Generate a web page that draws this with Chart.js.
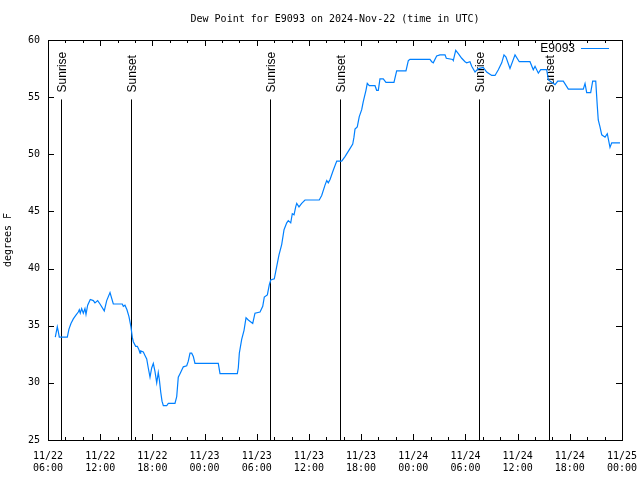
<!doctype html>
<html lang="en">
<head>
  <meta charset="utf-8">
  <title>Dew Point for E9093</title>
  <style type="text/css">
    html, body {
      margin: 0;
      padding: 0;
      background: #ffffff;
    }
  </style>
</head>
<body>
  <canvas id="chart_dewpoint" width="640" height="480"></canvas>

  <script src="https://cdn.jsdelivr.net/npm/chart.js"></script>
  <script>
    // hours since 2024-11-22 00:00 UTC
    const hours = [6.84, 7.07, 7.18, 7.30, 8.22, 8.41, 8.64, 8.91, 9.19, 9.48,
      9.60, 9.71, 9.87, 10.06, 10.25, 10.37, 10.56, 10.86, 11.21, 11.40,
      11.71, 11.98, 12.47, 12.75, 13.13, 13.51, 14.54, 14.66, 14.85, 15.08,
      15.31, 15.54, 15.69, 15.81, 16.08, 16.27, 16.46, 16.58, 16.66, 16.96,
      17.15, 17.35, 17.53, 17.73, 17.92, 18.11, 18.30, 18.50, 18.68, 18.80,
      18.96, 19.11, 19.26, 19.65, 19.83, 20.60, 20.80, 20.98, 21.18, 21.37,
      21.56, 21.95, 22.13, 22.33, 22.52, 22.71, 22.90, 25.58, 25.78, 27.77,
      27.88, 28.00, 28.27, 28.54, 28.77, 29.03, 29.54, 29.80, 30.38, 30.69,
      30.87, 31.22, 31.45, 31.61, 32.02, 32.30, 32.56, 32.87, 33.14, 33.45,
      33.63, 33.91, 34.09, 34.29, 34.48, 34.60, 34.86, 35.17, 35.55, 37.19,
      37.47, 37.85, 38.05, 38.23, 38.43, 38.80, 39.20, 39.77, 40.15, 40.72,
      41.04, 41.18, 41.30, 41.56, 41.79, 42.07, 42.25, 42.56, 42.71, 42.94,
      43.60, 43.79, 43.98, 44.17, 44.55, 44.86, 45.78, 46.09, 47.16, 47.43,
      47.62, 49.92, 50.12, 50.30, 50.69, 51.07, 51.65, 51.80, 52.53, 52.60,
      52.88, 53.18, 53.57, 53.95, 54.14, 54.52, 54.72, 55.10, 55.48, 56.05,
      56.44, 57.02, 57.40, 57.78, 58.17, 58.43, 58.66, 59.12, 59.70, 60.19,
      61.42, 61.80, 62.00, 62.38, 62.65, 63.34, 63.53, 63.92, 64.30, 64.61,
      65.25, 65.83, 67.55, 67.75, 67.94, 68.40, 68.63, 68.98, 69.16, 69.27,
      69.47, 69.67, 70.05, 70.31, 70.62, 70.82, 71.77];

    const dew_point = [34.0, 34.9, 34.5, 34.0, 34.0, 34.7, 35.2, 35.6, 35.9, 36.2,
      36.4, 36.1, 36.5, 36.1, 36.5, 36.0, 36.8, 37.3, 37.2, 37.0,
      37.2, 36.9, 36.3, 37.2, 37.9, 36.9, 36.9, 36.7, 36.8, 36.4,
      35.8, 34.9, 34.0, 33.6, 33.2, 33.2, 32.9, 32.6, 32.8, 32.7,
      32.4, 32.1, 31.3, 30.5, 31.3, 31.7, 31.0, 30.0, 30.9, 30.3,
      29.2, 28.4, 28.0, 28.0, 28.2, 28.2, 28.8, 30.5, 30.8, 31.1,
      31.4, 31.5, 31.9, 32.6, 32.6, 32.3, 31.7, 31.7, 30.8, 30.8,
      31.3, 32.6, 33.8, 34.6, 35.7, 35.5, 35.2, 36.1, 36.2, 36.7,
      37.5, 37.7, 38.6, 39.0, 39.1, 40.2, 41.2, 42.1, 43.4, 44.0,
      44.2, 44.0, 44.8, 44.7, 45.4, 45.7, 45.4, 45.7, 46.0, 46.0,
      46.4, 47.3, 47.7, 47.5, 47.8, 48.6, 49.4, 49.4, 49.8, 50.5,
      50.9, 51.5, 52.2, 52.4, 53.3, 53.9, 54.6, 55.6, 56.2, 56.0,
      56.0, 55.6, 55.6, 56.6, 56.6, 56.3, 56.3, 57.3, 57.3, 58.2,
      58.3, 58.3, 58.1, 58.0, 58.6, 58.7, 58.7, 58.4, 58.3, 58.2,
      59.1, 58.8, 58.4, 58.1, 58.0, 58.1, 57.7, 57.2, 57.5, 57.6,
      57.2, 56.9, 56.9, 57.4, 58.0, 58.7, 58.5, 57.5, 58.7, 58.1,
      58.1, 57.4, 57.7, 57.1, 57.4, 57.4, 56.5, 56.3, 56.1, 56.4,
      56.4, 55.7, 55.7, 56.2, 55.4, 55.4, 56.4, 56.4, 54.2, 53.0,
      52.4, 51.7, 51.5, 51.8, 50.6, 51.0, 51.0];

    const sun_hours = [7.5, 15.55, 31.53, 39.57, 55.56, 63.61];
    const sun_labels = ['Sunrise', 'Sunset', 'Sunrise', 'Sunset', 'Sunrise', 'Sunset'];
    const sun_line_top = 54.8;

    const station = 'E9093';
    const chart_title = 'Dew Point for E9093 on 2024-Nov-22 (time in UTC)';
    const y_title = 'degrees F';

    const lineColor = 'rgb(0, 128, 255)';
    const monoFont = '10px "DejaVu Sans Mono", monospace';
    const sansFont = '12px "Liberation Sans", Arial, sans-serif';

    function pad(n) {
      return (n < 10 ? '0' : '') + n;
    }

    function tickLabel(value) {
      var day = 22 + Math.floor(value / 24);
      var hour = value % 24;
      return ['11/' + day, pad(hour) + ':00'];
    }

    // gnuplot style frame, inward ticks, sunrise/sunset markers, legend and title
    const gnuplotDecor = {
      id: 'gnuplotDecor',
      beforeDatasetsDraw(chart) {
        const ctx = chart.ctx;
        const x = chart.scales.x;
        const y = chart.scales.y;
        ctx.save();
        ctx.strokeStyle = '#000000';
        ctx.lineWidth = 1;
        ctx.fillStyle = '#000000';
        ctx.font = sansFont;
        for (var i = 0; i < sun_hours.length; i++) {
          var px = Math.round(x.getPixelForValue(sun_hours[i])) + 0.5;
          var top = y.getPixelForValue(sun_line_top);
          ctx.beginPath();
          ctx.moveTo(px, y.bottom);
          ctx.lineTo(px, top);
          ctx.stroke();

          ctx.save();
          ctx.translate(px + 1, top - 7);
          ctx.rotate(-Math.PI / 2);
          ctx.textAlign = 'left';
          ctx.textBaseline = 'middle';
          ctx.fillText(sun_labels[i], 0, 0);
          ctx.restore();
        }
        ctx.restore();
      },
      afterDraw(chart) {
        const ctx = chart.ctx;
        const area = chart.chartArea;
        const x = chart.scales.x;
        const y = chart.scales.y;
        ctx.save();
        ctx.strokeStyle = '#000000';
        ctx.lineWidth = 1;

        ctx.strokeRect(Math.round(area.left) + 0.5, Math.round(area.top) + 0.5,
          Math.round(area.right - area.left), Math.round(area.bottom - area.top));

        ctx.beginPath();
        for (var h = x.min; h <= x.max; h += 2) {
          var len = (h % 6 === 0) ? 6 : 3;
          var px = Math.round(x.getPixelForValue(h)) + 0.5;
          ctx.moveTo(px, area.bottom);
          ctx.lineTo(px, area.bottom - len);
          ctx.moveTo(px, area.top);
          ctx.lineTo(px, area.top + len);
        }
        for (var v = y.min; v <= y.max; v += 5) {
          var py = Math.round(y.getPixelForValue(v)) + 0.5;
          ctx.moveTo(area.left, py);
          ctx.lineTo(area.left + 6, py);
          ctx.moveTo(area.right, py);
          ctx.lineTo(area.right - 6, py);
        }
        ctx.stroke();

        // legend
        ctx.fillStyle = '#000000';
        ctx.font = sansFont;
        ctx.textAlign = 'right';
        ctx.textBaseline = 'middle';
        ctx.fillText(station, area.right - 47, area.top + 9);
        ctx.strokeStyle = lineColor;
        ctx.beginPath();
        ctx.moveTo(area.right - 41, area.top + 8.5);
        ctx.lineTo(area.right - 13, area.top + 8.5);
        ctx.stroke();

        // title
        ctx.fillStyle = '#000000';
        ctx.font = monoFont;
        ctx.textAlign = 'center';
        ctx.textBaseline = 'middle';
        ctx.fillText(chart_title, (area.left + area.right) / 2, 19);
        ctx.restore();
      }
    };

    const config_dewpoint = {
      type: 'line',
      data: {
        datasets: [{
          label: station,
          data: hours.map(function (h, i) { return { x: h, y: dew_point[i] }; }),
          borderColor: lineColor,
          borderWidth: 1.2,
          pointRadius: 0,
          tension: 0,
          fill: false
        }]
      },
      options: {
        responsive: false,
        animation: false,
        devicePixelRatio: 1,
        layout: {
          padding: { top: 40, right: 18, left: 0, bottom: 0 }
        },
        plugins: {
          legend: { display: false },
          title: { display: false },
          tooltip: { enabled: false }
        },
        scales: {
          x: {
            type: 'linear',
            min: 6,
            max: 72,
            afterFit: function (scale) {
              scale.height = 40;
              scale.paddingLeft = 0;
              scale.paddingRight = 0;
            },
            grid: { display: false, drawTicks: false },
            border: { display: false },
            ticks: {
              stepSize: 6,
              autoSkip: false,
              maxRotation: 0,
              padding: 10,
              color: '#000000',
              font: { family: '"DejaVu Sans Mono", monospace', size: 10, lineHeight: 1.2 },
              callback: function (value) { return tickLabel(value); }
            }
          },
          y: {
            min: 25,
            max: 60,
            afterFit: function (scale) { scale.width = 48; },
            grid: { display: false, drawTicks: false },
            border: { display: false },
            ticks: {
              stepSize: 5,
              padding: 8,
              color: '#000000',
              font: { family: '"DejaVu Sans Mono", monospace', size: 10 }
            },
            title: {
              display: true,
              text: y_title,
              color: '#000000',
              padding: { top: 2, bottom: 0 },
              font: { family: '"DejaVu Sans Mono", monospace', size: 10 }
            }
          }
        }
      },
      plugins: [gnuplotDecor]
    };

    const chart_dewpoint = new Chart(
      document.getElementById('chart_dewpoint'),
      config_dewpoint
    );
  </script>
</body>
</html>
